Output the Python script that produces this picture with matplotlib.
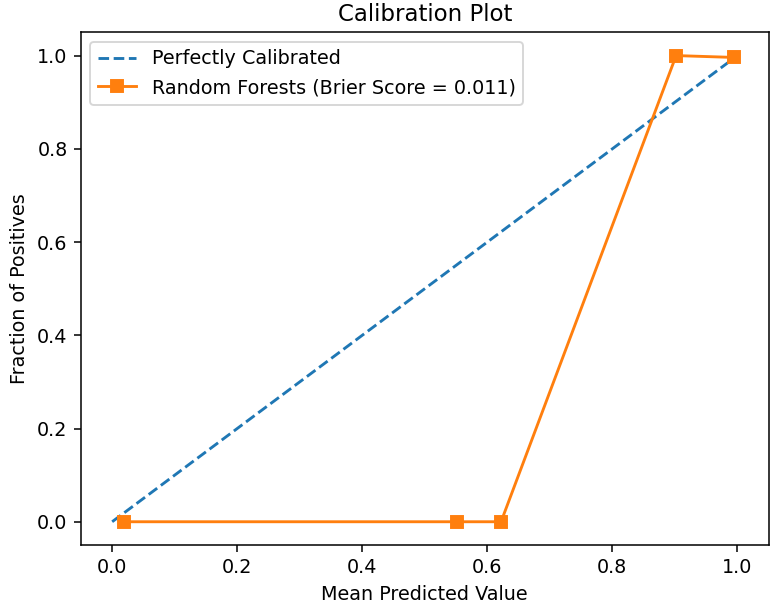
import matplotlib
matplotlib.use("Agg")
import matplotlib.pyplot as plt

# calibration curve values
mean_pred = [0.019, 0.552, 0.622, 0.902, 0.995]
frac_pos = [0.0, 0.0, 0.0, 1.0, 0.996]
perfect = [0, 1]
brier = 0.011

dpi = 137.5
fig, ax = plt.subplots(figsize=(778 / dpi, 609 / dpi), dpi=dpi)
fig.subplots_adjust(left=0.104, right=0.988, top=0.947, bottom=0.105)

ax.plot(perfect, perfect, linestyle="--", label="Perfectly Calibrated")
ax.plot(mean_pred, frac_pos, marker="s", label=f"Random Forests (Brier Score = {brier:.3f})")

ax.set_title("Calibration Plot")
ax.set_xlabel("Mean Predicted Value")
ax.set_ylabel("Fraction of Positives")
ax.legend(loc="upper left")

fig.savefig("out.png", dpi=dpi)
